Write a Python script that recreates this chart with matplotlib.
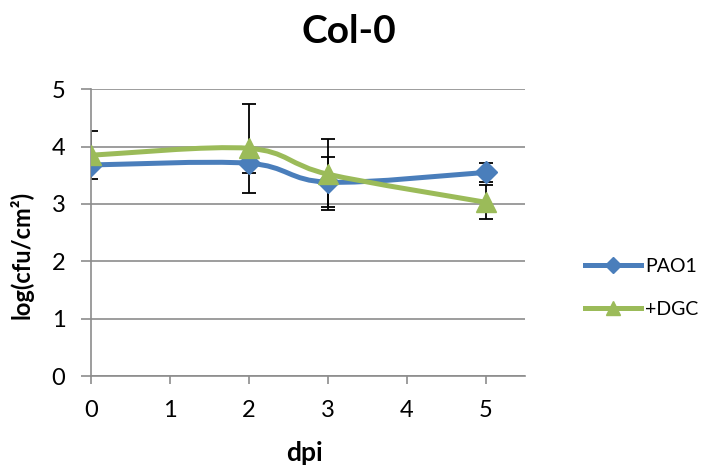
import matplotlib
matplotlib.use("Agg")
import matplotlib.pyplot as plt
from matplotlib.path import Path
from matplotlib.patches import PathPatch
from matplotlib.lines import Line2D

plt.rcParams['font.family'] = ['Lato', 'DejaVu Sans']

# 数据
dpi_days = [0, 2, 3, 5]
pao1 = [3.68, 3.71, 3.38, 3.55]
pao1_err = [0.05, 0.17, 0.44, 0.17]
dgc = [3.85, 3.97, 3.52, 3.03]
dgc_err = [0.42, 0.77, 0.62, 0.30]
x_ticks = [0, 1, 2, 3, 4, 5]
y_ticks = [0, 1, 2, 3, 4, 5]

BLUE = "#4A7EBB"
GREEN = "#9BBB59"
GRID = "#8C8C8C"


def smooth_path(xs, ys):
    # Excel风格的平滑曲线 (Catmull-Rom -> Bezier)
    pts = list(zip(xs, ys))
    verts = [pts[0]]
    codes = [Path.MOVETO]
    n = len(pts)
    for i in range(n - 1):
        p0 = pts[i - 1] if i > 0 else pts[i]
        p1 = pts[i]
        p2 = pts[i + 1]
        p3 = pts[i + 2] if i + 2 < n else pts[i + 1]
        c1 = (p1[0] + (p2[0] - p0[0]) / 6, p1[1] + (p2[1] - p0[1]) / 6)
        c2 = (p2[0] - (p3[0] - p1[0]) / 6, p2[1] - (p3[1] - p1[1]) / 6)
        verts += [c1, c2, p2]
        codes += [Path.CURVE4] * 3
    return Path(verts, codes)


fig = plt.figure(figsize=(7.01, 4.72), dpi=100)
ax = fig.add_axes([0.130, 0.203, 0.619, 0.608])

ax.set_xlim(0, 5.5)
ax.set_ylim(0, 5)
ax.set_xticks(x_ticks)
ax.set_yticks(y_ticks)
ax.yaxis.grid(True, color=GRID, linewidth=1.2)
ax.set_axisbelow(True)

for side in ["top", "right"]:
    ax.spines[side].set_visible(False)
for side in ["left", "bottom"]:
    ax.spines[side].set_color(GRID)
    ax.spines[side].set_linewidth(1.2)
ax.tick_params(axis="x", direction="out", length=6, width=1.2, color=GRID,
               labelsize=17, pad=11)
ax.tick_params(axis="y", direction="out", length=7.5, width=1.2, color=GRID,
               labelsize=17, pad=11)

# 误差线
ax.errorbar(dpi_days, pao1, yerr=pao1_err, fmt="none", ecolor="black",
            elinewidth=1.3, capsize=5, capthick=1.3, zorder=2)
ax.errorbar(dpi_days, dgc, yerr=dgc_err, fmt="none", ecolor="black",
            elinewidth=1.3, capsize=5, capthick=1.3, zorder=2)

# 平滑曲线
ax.add_patch(PathPatch(smooth_path(dpi_days, pao1), facecolor="none",
                       edgecolor=BLUE, linewidth=3.6, zorder=3,
                       capstyle="round", joinstyle="round"))
ax.plot(dpi_days, pao1, linestyle="none", marker="D", markersize=11.5,
        color=BLUE, zorder=4)
ax.add_patch(PathPatch(smooth_path(dpi_days, dgc), facecolor="none",
                       edgecolor=GREEN, linewidth=3.6, zorder=5,
                       capstyle="round", joinstyle="round"))
ax.plot(dpi_days, dgc, linestyle="none", marker="^", markersize=14,
        color=GREEN, zorder=6)

fig.text(0.498, 0.909, "Col-0", fontsize=28, fontweight="bold",
         ha="center", va="baseline")
fig.text(0.434, 0.024, "dpi", fontsize=19, fontweight="bold",
         ha="center", va="baseline")
fig.text(0.031, 0.46, "log(cfu/cm\u00b2)", fontsize=17, fontweight="bold",
         ha="center", va="center", rotation=90)

handles = [
    Line2D([], [], color=BLUE, linewidth=3.6, marker="D", markersize=8),
    Line2D([], [], color=GREEN, linewidth=3.6, marker="^", markersize=10),
]
fig.legend(handles, ["PAO1", "+DGC"], loc="center left",
           bbox_to_anchor=(0.834, 0.39), frameon=False, fontsize=14,
           borderpad=0, borderaxespad=0,
           handlelength=2.9, handletextpad=0.2, labelspacing=1.3)

fig.savefig("out.png", dpi=100)
